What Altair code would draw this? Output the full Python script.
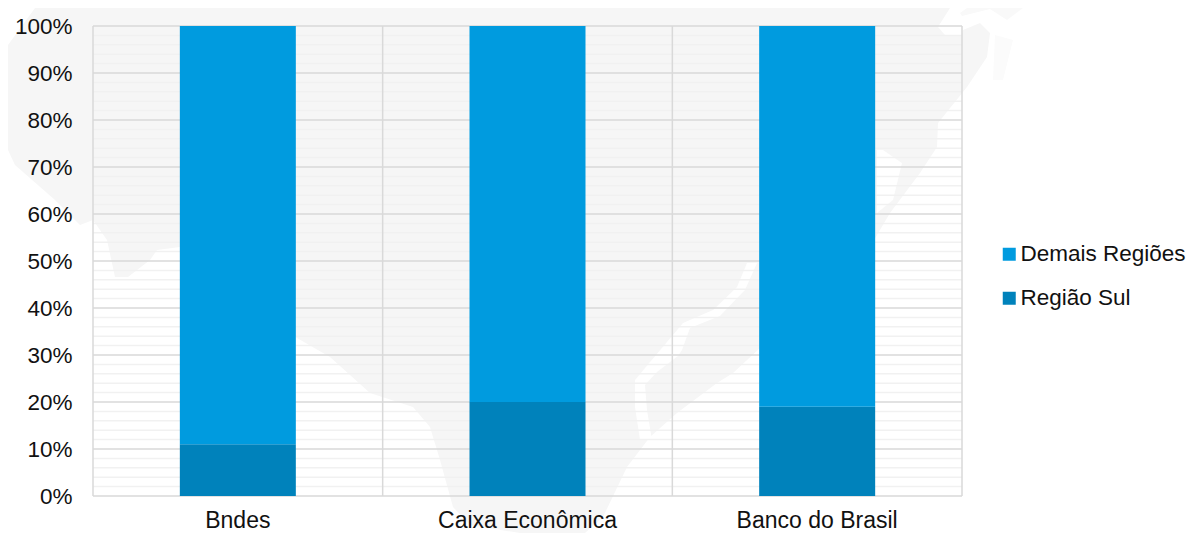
import altair as alt
import pandas as pd

categories = ["Bndes", "Caixa Econômica", "Banco do Brasil"]
regiao_sul = [0.11, 0.20, 0.19]
demais = [0.89, 0.80, 0.81]
series_names = ["Demais Regiões", "Região Sul"]
series_colors = ["#009BDF", "#0082BB"]
major_ticks = [0, .1, .2, .3, .4, .5, .6, .7, .8, .9, 1]
minor_ticks = [v / 100 for v in range(0, 101, 2) if v % 10]
cat_edges = [0, 1, 2, 3]

# Decorative map silhouette behind the chart, in image-grid units
map_x = [35, 950, 938, 945, 962, 963, 980, 990, 987, 967, 938, 937, 920, 890, 877, 850, 760, 733, 717, 677, 650, 627,
         603, 585, 520, 470, 453, 440, 430, 413, 370, 330, 297, 238, 180, 157, 150, 128, 115, 107,
         93, 80, 55, 15, 8, 8]
map_y = [8, 8, 27, 35, 35, 30, 23, 33, 57, 87, 123, 147, 173, 213, 235, 280, 348, 373, 383, 413, 437, 467,
         517, 533, 533, 525, 507, 460, 427, 407, 393, 357, 338, 300, 247, 250, 260, 277, 277, 240,
         220, 225, 200, 165, 150, 45]
streak_x = [747, 757, 745, 720, 690, 682, 678, 657, 645, 647, 652, 640, 635, 635, 650, 683, 713, 737]
streak_y = [263, 263, 290, 316, 328, 350, 356, 372, 385, 410, 440, 440, 407, 380, 362, 323, 310, 287]
bay_x = [883, 902, 893, 877, 877]
bay_y = [150, 163, 200, 213, 150]
arc_x = [960, 967, 1023, 1007, 990, 962]
arc_y = [13, 8, 8, 20, 9, 16]
patch_x = [995, 1013, 1003, 993]
patch_y = [35, 40, 80, 80]


def poly(xs, ys, color):
    d = pd.DataFrame({"x": xs + xs[:1], "y": ys + ys[:1]})
    d["i"] = range(len(d))
    return alt.Chart(d).mark_line(fill=color, strokeWidth=0, clip=False, interpolate="linear").encode(
        x=alt.X("x:Q", axis=None, scale=alt.Scale(domain=[93, 962], nice=False, zero=False)),
        y=alt.Y("y:Q", axis=None, scale=alt.Scale(domain=[496, 26], nice=False, zero=False)),
        order="i:Q",
    )


yscale = alt.Scale(domain=[0, 1], nice=False)

minor = alt.Chart(pd.DataFrame({"v": minor_ticks})).mark_rule(color="#f1f1f1", strokeWidth=1.5).encode(
    y=alt.Y("v:Q", axis=None, scale=yscale))
major = alt.Chart(pd.DataFrame({"v": major_ticks})).mark_rule(color="#d9d9d9", strokeWidth=1.5).encode(
    y=alt.Y("v:Q", axis=None, scale=yscale))
vert = alt.Chart(pd.DataFrame({"e": cat_edges})).mark_rule(color="#d9d9d9", strokeWidth=1.5).encode(
    x=alt.X("e:Q", axis=None, scale=alt.Scale(domain=[0, 3], nice=False)))

rows = []
for c, s, d in zip(categories, regiao_sul, demais):
    rows.append({"cat": c, "serie": series_names[1], "v": s, "o": 0})
    rows.append({"cat": c, "serie": series_names[0], "v": d, "o": 1})

font = "Liberation Sans"
bars = alt.Chart(pd.DataFrame(rows)).mark_bar(size=116).encode(
    x=alt.X("cat:N", sort=categories, title=None, scale=alt.Scale(paddingInner=0, paddingOuter=0),
            axis=alt.Axis(labelAngle=0, labelFontSize=23, labelFont=font, labelColor="#111111", zindex=1,
                          labelPadding=13, ticks=False, domain=False, grid=False)),
    y=alt.Y("v:Q", stack="zero", title=None, scale=yscale,
            axis=alt.Axis(values=major_ticks, format=".0%", labelFontSize=22.5, labelFont=font, zindex=1,
                          labelColor="#111111", labelPadding=21, ticks=False, domain=False, grid=False)),
    color=alt.Color("serie:N", scale=alt.Scale(domain=series_names, range=series_colors),
                    legend=alt.Legend(title=None, orient="none", legendX=905, legendY=217,
                                      symbolType="square", symbolSize=169, symbolStrokeWidth=0,
                                      labelFontSize=22.5, labelFont=font, labelColor="#111111",
                                      labelOffset=0, rowPadding=21, labelLimit=220)),
    order=alt.Order("o:Q"),
)

chart = alt.layer(
    poly(map_x, map_y, "#f6f6f6"),
    poly(streak_x, streak_y, "#ffffff"),
    poly(bay_x, bay_y, "#ffffff"),
    poly(arc_x, arc_y, "#f9f9f9"),
    poly(patch_x, patch_y, "#fbfbfb"),
    minor, major, vert, bars,
).resolve_scale(x="independent", y="independent", color="independent").properties(
    width=869, height=470,
    autosize=alt.AutoSizeParams(type="none"),
    padding={"left": 85, "top": 18, "right": 227, "bottom": 37},
    background="white",
).configure_view(stroke=None)

chart.save("out.html", embed_options={"renderer": "svg", "actions": False})
